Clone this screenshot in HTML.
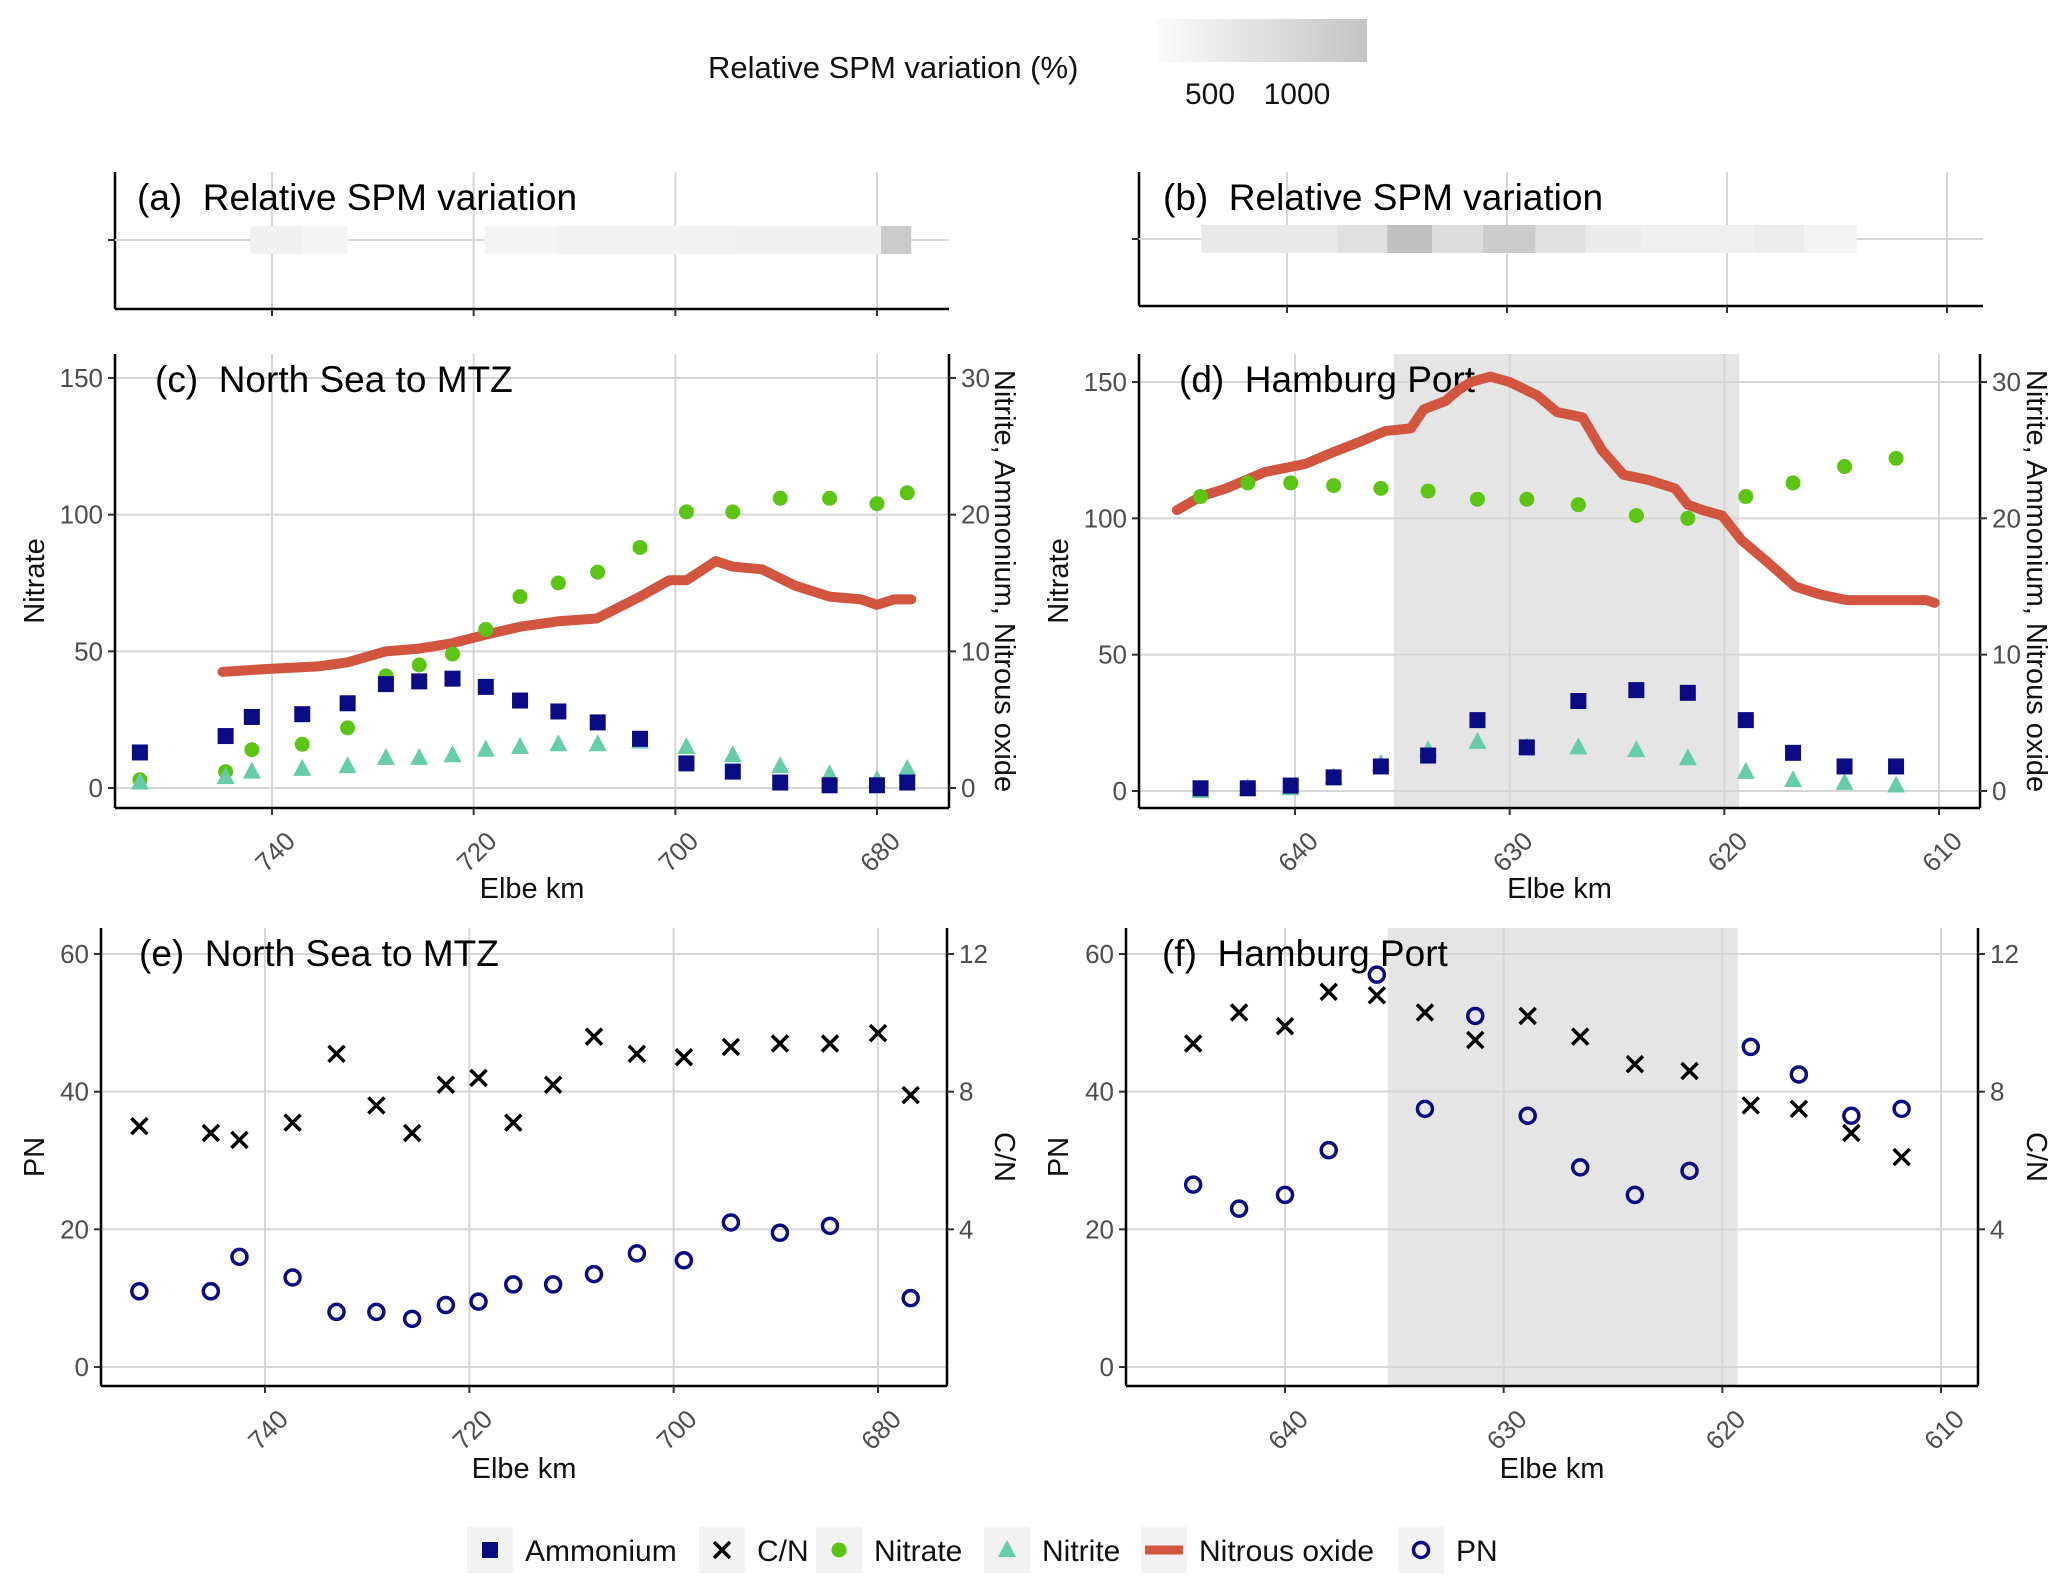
<!DOCTYPE html>
<html><head><meta charset="utf-8"><style>
html,body{margin:0;padding:0;background:#fff;}
svg{display:block;font-family:"Liberation Sans",Arial,sans-serif;}
</style></head><body>
<svg id="chart" width="2067" height="1585" viewBox="0 0 2067 1585" xmlns="http://www.w3.org/2000/svg">
<g>
<text x="708" y="78" font-size="31" fill="#111">Relative SPM variation (%)</text>
<defs><linearGradient id="gb" x1="0" x2="1" y1="0" y2="0"><stop offset="0" stop-color="#fbfbfb"/><stop offset="1" stop-color="#c4c4c4"/></linearGradient></defs>
<rect x="1157" y="19" width="210" height="43" fill="url(#gb)"/>
<text x="1210" y="104" font-size="30" text-anchor="middle" fill="#111">500</text>
<text x="1297" y="104" font-size="30" text-anchor="middle" fill="#111">1000</text>
</g>
<g id="plots"></g>
<g id="legend"></g>
</svg>
<script>
// ---- data ----
const cStations=[753.1,744.6,742,737,732.5,728.7,725.4,722.1,718.8,715.4,711.6,707.7,703.5,698.9,694.3,689.6,684.7,680,677];
const cNitrate=[3,6,14,16,22,41,45,49,58,70,75,79,88,101,101,106,106,104,108];
const cAmmonium=[2.6,3.8,5.2,5.4,6.2,7.6,7.8,8.0,7.4,6.4,5.6,4.8,3.6,1.8,1.2,0.4,0.2,0.2,0.4];
const cNitrite=[0.4,0.8,1.2,1.4,1.6,2.2,2.2,2.4,2.8,3.0,3.2,3.2,3.4,3.0,2.4,1.6,1.0,0.6,1.4];
const cN2OKm=[744.9,740.7,735.4,732.5,728.7,725.4,722.1,718.9,715.4,711.6,707.8,703.5,700.6,698.9,696,694.3,691.4,688.1,684.7,681.6,680,678.3,676.6];
const cN2O=[8.5,8.7,8.9,9.2,10,10.2,10.6,11.2,11.8,12.2,12.4,14,15.2,15.2,16.6,16.2,16,14.8,14,13.8,13.4,13.8,13.8];
const dStations=[644.4,642.2,640.2,638.2,636,633.8,631.5,629.2,626.8,624.1,621.7,619,616.8,614.4,612];
const dNitrate=[108,113,113,112,111,110,107,107,105,101,100,108,113,119,122];
const dAmmonium=[0.2,0.2,0.4,1.0,1.8,2.6,5.2,3.2,6.6,7.4,7.2,5.2,2.8,1.8,1.8];
const dNitrite=[0,0.2,0.2,1.0,2.0,3.0,3.6,3.2,3.2,3.0,2.4,1.4,0.8,0.6,0.4];
const dN2OKm=[645.5,644.4,643.2,641.4,639.5,638.3,637,635.8,634.6,634,633,632.4,631.8,630.9,630,628.7,627.8,626.6,625.7,624.7,623.5,622.3,621.7,621,620.1,619.2,618,616.7,615.5,614.3,612.4,610.6,610.2];
const dN2O=[20.6,21.6,22.2,23.4,24,24.8,25.6,26.4,26.6,28,28.6,29.4,30,30.4,30,29,27.8,27.4,25,23.2,22.8,22.2,21,20.6,20.2,18.4,16.8,15,14.4,14,14,14,13.8];
const ePNKm=[752.3,745.3,742.5,737.3,733,729.1,725.6,722.3,719.1,715.7,711.8,707.8,703.6,699,694.4,689.6,684.7,676.8];
const ePN=[11,11,16,13,8,8,7,9,9.5,12,12,13.5,16.5,15.5,21,19.5,20.5,10];
const eCNKm=[752.3,745.3,742.5,737.3,733,729.1,725.6,722.3,719.1,715.7,711.8,707.8,703.6,699,694.4,689.6,684.7,680,676.8];
const eCN=[7.0,6.8,6.6,7.1,9.1,7.6,6.8,8.2,8.4,7.1,8.2,9.6,9.1,9.0,9.3,9.4,9.4,9.7,7.9];
const fStations=[644.2,642.1,640,638,635.8,633.6,631.3,628.9,626.5,624,621.5,618.7,616.5,614.1,611.8];
const fPN=[26.5,23,25,31.5,57,37.5,51,36.5,29,25,28.5,46.5,42.5,36.5,37.5];
const fCN=[9.4,10.3,9.9,10.9,10.8,10.3,9.5,10.2,9.6,8.8,8.6,7.6,7.5,6.8,6.1];
const xTicksC=[740,720,700,680];
const xTicksD=[640,630,620,610];
const yTicksNitrate=[0,50,100,150];
const yTicksRight1=[0,10,20,30];
const yTicksPN=[0,20,40,60];
const yTicksCN=[4,8,12];
const spmA=[{a:742.2,b:737,v:25},{a:737,b:732.5,v:10},{a:718.9,b:711.8,v:5},{a:711.8,b:694,v:15},{a:694,b:679.6,v:25},{a:679.6,b:676.6,v:210}];
const spmB=[{a:643.9,b:637.7,v:60},{a:637.7,b:635.45,v:105},{a:635.45,b:633.4,v:265},{a:633.4,b:631.1,v:125},{a:631.1,b:628.7,v:205},{a:628.7,b:626.4,v:105},{a:626.4,b:623.9,v:50},{a:623.9,b:618.8,v:25},{a:618.8,b:616.5,v:45},{a:616.5,b:614.1,v:5}];

const NS="http://www.w3.org/2000/svg";
const root=document.getElementById('plots');
function el(tag,attrs,parent){const e=document.createElementNS(NS,tag);for(const k in attrs)e.setAttribute(k,attrs[k]);(parent||root).appendChild(e);return e;}
function lin(d0,d1,r0,r1){return v=>r0+(v-d0)*(r1-r0)/(d1-d0);}
function grey(v){const g=Math.round(245-v*0.2);return `rgb(${g},${g},${g})`;}

function square(g,x,y){const e=el('rect',{x:x-8,y:y-8,width:16,height:16,fill:'#0b0b84'},g);

}
function dot(g,x,y){const e=el('circle',{cx:x,cy:y,r:7.5,fill:'#5cc414'},g);

}
function tri(g,x,y){const e=el('polygon',{points:`${x},${y-10} ${x-9},${y+7} ${x+9},${y+7}`,fill:'#66ccaa'},g);

}
function ring(g,x,y){const e=el('circle',{cx:x,cy:y,r:7.5,fill:'none',stroke:'#0b0b84','stroke-width':3.5},g);

}
function cross(g,x,y){const e=el('path',{d:`M${x-8},${y-8}L${x+8},${y+8}M${x+8},${y-8}L${x-8},${y+8}`,stroke:'#000','stroke-width':3.5},g);

}

function panel(p){
  const g=el('g',{});
  
  
  const X=lin(p.k0,p.k1,p.x0,p.x1);
  if(p.shade){const s=el('rect',{x:X(p.shade[0]),y:p.top,width:X(p.shade[1])-X(p.shade[0]),height:p.bot-p.top,fill:'#e5e5e5'},g);
    
    }
  p.xt.forEach(t=>{el('line',{x1:X(t),x2:X(t),y1:p.top,y2:p.bot,stroke:'#d6d6d6','stroke-width':2},g);});
  let YL=null,YR=null;
  if(p.yl){YL=lin(p.yl[0],p.yl[1],p.yl[2],p.yl[3]);
    p.ylt.forEach(t=>{el('line',{x1:p.L,x2:p.R,y1:YL(t),y2:YL(t),stroke:'#d6d6d6','stroke-width':2},g);
      el('line',{x1:p.L-7,x2:p.L,y1:YL(t),y2:YL(t),stroke:'#333','stroke-width':2},g);
      const tx=el('text',{x:p.L-12,y:YL(t)+9,'font-size':26,'text-anchor':'end',fill:'#4d4d4d'},g);tx.textContent=t;
      
      });
  }
  if(p.yr){YR=lin(p.yr[0],p.yr[1],p.yr[2],p.yr[3]);
    el('line',{x1:p.R,x2:p.R,y1:p.top,y2:p.bot,stroke:'#000','stroke-width':2.5},g);
    p.yrt.forEach(t=>{el('line',{x1:p.R,x2:p.R+7,y1:YR(t),y2:YR(t),stroke:'#333','stroke-width':2},g);
      const tx=el('text',{x:p.R+12,y:YR(t)+9,'font-size':26,fill:'#4d4d4d'},g);tx.textContent=t;
      
      });
  }
  el('line',{x1:p.L,x2:p.L,y1:p.top,y2:p.bot,stroke:'#000','stroke-width':2.5},g);
  el('line',{x1:p.L,x2:p.R,y1:p.bot,y2:p.bot,stroke:'#000','stroke-width':2.5},g);
  p.xt.forEach(t=>{el('line',{x1:X(t),x2:X(t),y1:p.bot,y2:p.bot+7,stroke:'#333','stroke-width':2},g);
    if(p.xlab){const tx=el('text',{x:X(t)+10,y:p.bot+20,'font-size':26,'text-anchor':'end',fill:'#4d4d4d',transform:`rotate(-45 ${X(t)+10} ${p.bot+20})`,dy:'0.8em'},g);tx.textContent=t;
      
      }});
  if(p.xlab){const tx=el('text',{x:(p.L+p.R)/2,y:p.xlab,'font-size':29,'text-anchor':'middle',fill:'#111'},g);tx.textContent='Elbe km';
    
    }
  if(p.ltitle){const tx=el('text',{x:p.ltx,y:(p.top+p.bot)/2,'font-size':29,'text-anchor':'middle',fill:'#111',transform:`rotate(-90 ${p.ltx} ${(p.top+p.bot)/2})`},g);tx.textContent=p.ltitle;
    
    }
  if(p.rtitle){const tx=el('text',{x:p.rtx,y:(p.top+p.bot)/2,'font-size':29,'text-anchor':'middle',fill:'#111',transform:`rotate(90 ${p.rtx} ${(p.top+p.bot)/2})`},g);tx.textContent=p.rtitle;
    
    }
  if(p.spm){
    const ty=p.tickY;
    el('line',{x1:p.L,x2:p.R,y1:ty,y2:ty,stroke:'#d6d6d6','stroke-width':2},g);
    el('line',{x1:p.L-7,x2:p.L,y1:ty,y2:ty,stroke:'#333','stroke-width':2},g);
    p.spm.forEach(s=>{const r=el('rect',{x:X(s.a),y:ty-14,width:X(s.b)-X(s.a),height:28,fill:grey(s.v)},g);
      
      });
  }
  const tt=el('text',{x:p.L+p.toff,y:p.top+38,'font-size':37,fill:'#000'},g);tt.textContent=p.title;
  
  
  return {g,X,YL,YR};
}

panel({name:'panel-a',title:'(a)\u00a0 Relative SPM variation',toff:22,L:115,R:949,top:172,bot:309,x0:272,x1:877,k0:740,k1:680,xt:xTicksC,tickY:240,spm:spmA});
panel({name:'panel-b',title:'(b)\u00a0 Relative SPM variation',toff:24,L:1139,R:1983,top:172,bot:306,x0:1287,x1:1947,k0:640,k1:610,xt:xTicksD,tickY:239,spm:spmB});

let P=panel({name:'panel-c',title:'(c)\u00a0 North Sea to MTZ',toff:40,L:115,R:949,top:354,bot:808,x0:272,x1:877,k0:740,k1:680,xt:xTicksC,
  yl:[0,150,788,378],ylt:yTicksNitrate,yr:[0,30,788,378],yrt:yTicksRight1,xlab:898,ltitle:'Nitrate',ltx:44,rtitle:'Nitrite, Ammonium, Nitrous oxide',rtx:995});
let pts=cN2OKm.map((k,i)=>`${P.X(k)},${P.YR(cN2O[i])}`).join(' ');
let ln=el('polyline',{points:pts,fill:'none',stroke:'#d2553f','stroke-width':10,'stroke-linejoin':'round','stroke-linecap':'round'},P.g);


cStations.forEach((k,i)=>dot(P.g,P.X(k),P.YL(cNitrate[i])));
cStations.forEach((k,i)=>tri(P.g,P.X(k),P.YR(cNitrite[i])));
cStations.forEach((k,i)=>square(P.g,P.X(k),P.YR(cAmmonium[i])));

P=panel({name:'panel-d',title:'(d)\u00a0 Hamburg Port',toff:40,L:1139,R:1980,top:354,bot:808,x0:1295,x1:1939,k0:640,k1:610,xt:xTicksD,shade:[635.4,619.3],
  yl:[0,150,791,382],ylt:yTicksNitrate,yr:[0,30,791,382],yrt:yTicksRight1,xlab:898,ltitle:'Nitrate',ltx:1068,rtitle:'Nitrite, Ammonium, Nitrous oxide',rtx:2027});
pts=dN2OKm.map((k,i)=>`${P.X(k)},${P.YR(dN2O[i])}`).join(' ');
ln=el('polyline',{points:pts,fill:'none',stroke:'#d2553f','stroke-width':10,'stroke-linejoin':'round','stroke-linecap':'round'},P.g);


dStations.forEach((k,i)=>dot(P.g,P.X(k),P.YL(dNitrate[i])));
dStations.forEach((k,i)=>tri(P.g,P.X(k),P.YR(dNitrite[i])));
dStations.forEach((k,i)=>square(P.g,P.X(k),P.YR(dAmmonium[i])));

P=panel({name:'panel-e',title:'(e)\u00a0 North Sea to MTZ',toff:38,L:101,R:947,top:928,bot:1386,x0:265,x1:878,k0:740,k1:680,xt:xTicksC,
  yl:[0,60,1367,954],ylt:yTicksPN,yr:[0,12,1367,954],yrt:yTicksCN,xlab:1478,ltitle:'PN',ltx:44,rtitle:'C/N',rtx:995});
eCNKm.forEach((k,i)=>cross(P.g,P.X(k),P.YR(eCN[i])));
ePNKm.forEach((k,i)=>ring(P.g,P.X(k),P.YL(ePN[i])));

P=panel({name:'panel-f',title:'(f)\u00a0 Hamburg Port',toff:36,L:1126,R:1978,top:928,bot:1386,x0:1285,x1:1941,k0:640,k1:610,xt:xTicksD,shade:[635.3,619.3],
  yl:[0,60,1367,954],ylt:yTicksPN,yr:[0,12,1367,954],yrt:yTicksCN,xlab:1478,ltitle:'PN',ltx:1068,rtitle:'C/N',rtx:2027});
fStations.forEach((k,i)=>cross(P.g,P.X(k),P.YR(fCN[i])));
fStations.forEach((k,i)=>ring(P.g,P.X(k),P.YL(fPN[i])));

const lg=document.getElementById('legend');
const items=[['Ammonium',490,square,'legend-ammonium'],['C/N',722,cross,'legend-cn'],['Nitrate',839,dot,'legend-nitrate'],['Nitrite',1007,tri,'legend-nitrite'],['Nitrous oxide',1164,null,'legend-nitrous-oxide'],['PN',1421,ring,'legend-pn']];
items.forEach(it=>{
  const g=el('g',{},lg);
  
  
  el('rect',{x:it[1]-23,y:1527,width:46,height:46,fill:'#f2f2f2'},g);
  if(it[2])it[2](g,it[1],1550);
  else el('line',{x1:it[1]-19,x2:it[1]+19,y1:1550,y2:1550,stroke:'#d2553f','stroke-width':9},g);
  const t=el('text',{x:it[1]+35,y:1561,'font-size':30,fill:'#111'},g);t.textContent=it[0];
});
</script>
</body></html>
